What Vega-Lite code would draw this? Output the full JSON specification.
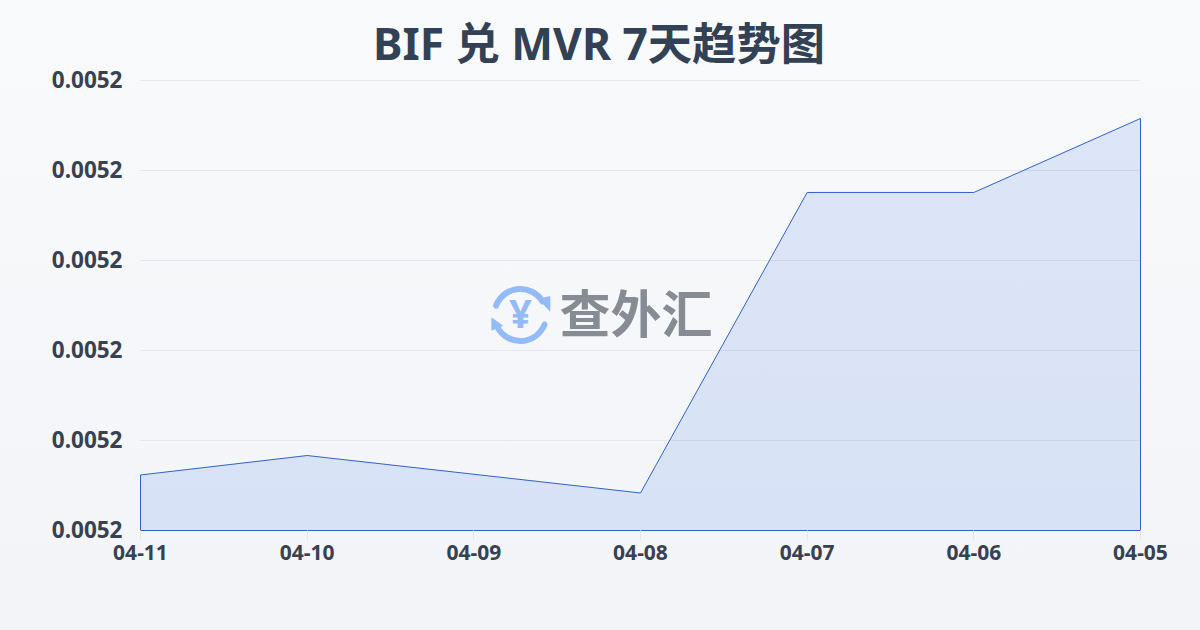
{
"$schema":"https://vega.github.io/schema/vega-lite/v6.json",
"width":1000,"height":450,
"autosize":{"type":"none"},
"padding":{"left":140,"top":80,"right":60,"bottom":100},
"background":"#f5f7fa",
"title":{"text":"BIF 兑 MVR 7天趋势图","anchor":"middle","dx":-41,"offset":-69,"font":"'Noto Sans','Noto Sans CJK SC'","fontSize":44.3,"fontWeight":"bold","color":"#334155"},
"config":{"view":{"stroke":null},"font":"Noto Sans CJK SC"},
"data":{"values":[
{"date":"04-11","rate":0.00516617},
{"date":"04-10","rate":0.00516833},
{"date":"04-09","rate":0.00516625},
{"date":"04-08","rate":0.00516417},
{"date":"04-07","rate":0.00519756},
{"date":"04-06","rate":0.00519756},
{"date":"04-05","rate":0.00520578}
]},
"layer":[
{"data":{"values":[{"bg":1}]},
"mark":{"type":"rect","clip":false,"width":1200,"xOffset":-40,"yOffset":-80,"y2Offset":100,
"fill":{"gradient":"linear","x1":0,"y1":0,"x2":0,"y2":1,"stops":[{"offset":0,"color":"#f9fafc"},{"offset":1,"color":"#f2f4f7"}]}},
"encoding":{"x":{"datum":"04-08","type":"ordinal","scale":{"type":"point","padding":0,"domain":["04-11","04-10","04-09","04-08","04-07","04-06","04-05"]},"title":null,
"axis":{"zindex":1,"title":null,"labelAngle":0,"labelAlign":"center","labelBaseline":"top","labelFont":"Noto Sans","labelFontSize":21,"labelFontWeight":"bold","labelColor":"#374151","labelPadding":2,"ticks":true,"tickColor":"#e5e7eb","tickSize":10,"domain":false,"grid":false}},
"y":{"datum":0.00521,"type":"quantitative","scale":{"domain":[0.00516,0.00521],"nice":false,"zero":false},"title":null,
"axis":{"zindex":1,"title":null,"format":".4f","values":[0.00516,0.00517,0.00518,0.00519,0.0052,0.00521],"labelFont":"Noto Sans","labelFontSize":22.5,"labelFontWeight":"bold","labelColor":"#374151","labelPadding":18,"ticks":false,"domain":false,"grid":false}},"y2":{"datum":0.00516}}},
{"data":{"values":[{"tick":0.00517},{"tick":0.00518},{"tick":0.00519},{"tick":0.0052},{"tick":0.00521}]},
"mark":{"type":"rule","color":"#e5e7eb","strokeWidth":1,"yOffset":0.5},
"encoding":{"y":{"field":"tick","type":"quantitative","title":null}}},
{"mark":{"type":"area","fill":"#2563eb","fillOpacity":0.13,"stroke":"#2f62c8","strokeWidth":1,"xOffset":0.5,"yOffset":0.5,"y2Offset":0.5},
"encoding":{
"x":{"field":"date","type":"ordinal","sort":null,"title":null},
"y":{"field":"rate","type":"quantitative","title":null},
"y2":{"datum":0.00516}
}},
{"data":{"values":[{"t":"查外汇"}]},
"mark":{"type":"text","font":"Noto Sans CJK SC","fontWeight":"bold","fontSize":51,"fill":"#868b94","align":"center","baseline":"middle","xOffset":-4,"yOffset":3},
"encoding":{"x":{"datum":"04-08","type":"ordinal"},"y":{"datum":0.00518389,"type":"quantitative"},"text":{"field":"t"}}},
{"data":{"values":[{"t":"¥"}]},
"mark":{"type":"text","font":"Noto Sans","fontWeight":"bold","fontSize":40,"fill":"#93bbf8","align":"center","baseline":"middle","xOffset":47,"yOffset":1},
"encoding":{"x":{"datum":"04-09","type":"ordinal"},"y":{"datum":0.00518389,"type":"quantitative"},"text":{"field":"t"}}},
{"data":{"values":[{"a":-1.32,"b":1.14},{"a":1.83,"b":4.34}]},
"mark":{"type":"arc","innerRadius":23,"outerRadius":29,"cornerRadius":3,"fill":"#93bbf8","xOffset":47},
"encoding":{"x":{"datum":"04-09","type":"ordinal"},"y":{"datum":0.00518389,"type":"quantitative"},"theta":{"field":"a","type":"quantitative","scale":null},"theta2":{"field":"b"}}},
{"data":{"values":[{"side":"right"}]},
"mark":{"type":"point","filled":true,"opacity":1,"fill":"#93bbf8","shape":"M-0.7,-0.6L0.7,-0.95L0.7,0.95Z","size":290,"xOffset":71,"yOffset":-11},
"encoding":{"x":{"datum":"04-09","type":"ordinal"},"y":{"datum":0.00518389,"type":"quantitative"}}},
{"data":{"values":[{"side":"left"}]},
"mark":{"type":"point","filled":true,"opacity":1,"fill":"#93bbf8","shape":"M-0.7,-0.8L-0.7,0.8L0.7,0.2Z","size":290,"xOffset":24,"yOffset":9},
"encoding":{"x":{"datum":"04-09","type":"ordinal"},"y":{"datum":0.00518389,"type":"quantitative"}}}
]
}
